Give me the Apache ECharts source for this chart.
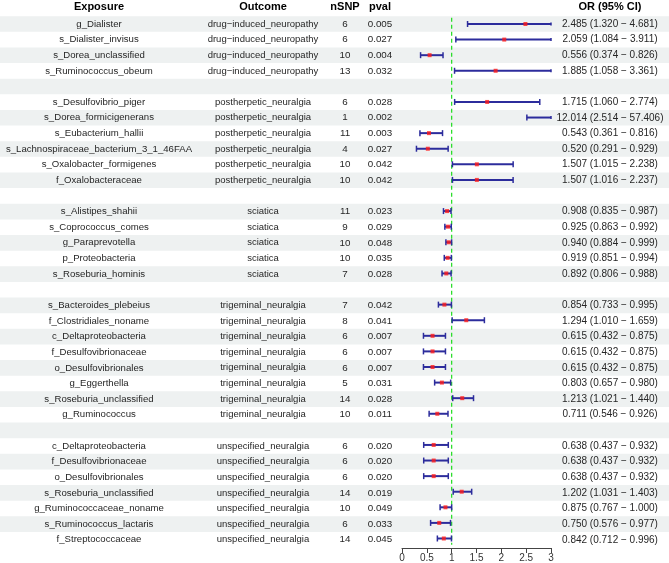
<!DOCTYPE html>
<html>
<head>
<meta charset="utf-8">
<script src="https://cdn.jsdelivr.net/npm/echarts@6/dist/echarts.min.js"></script>
<style>
html,body{margin:0;padding:0;background:#fff;}
#chart{width:669px;height:563px;}
</style>
</head>
<body>
<div id="chart"></div>
<script>
const exposure = ["g_Dialister","s_Dialister_invisus","s_Dorea_unclassified","s_Ruminococcus_obeum",
  "s_Desulfovibrio_piger","s_Dorea_formicigenerans","s_Eubacterium_hallii","s_Lachnospiraceae_bacterium_3_1_46FAA","s_Oxalobacter_formigenes","f_Oxalobacteraceae",
  "s_Alistipes_shahii","s_Coprococcus_comes","g_Paraprevotella","p_Proteobacteria","s_Roseburia_hominis",
  "s_Bacteroides_plebeius","f_Clostridiales_noname","c_Deltaproteobacteria","f_Desulfovibrionaceae","o_Desulfovibrionales","g_Eggerthella","s_Roseburia_unclassified","g_Ruminococcus",
  "c_Deltaproteobacteria","f_Desulfovibrionaceae","o_Desulfovibrionales","s_Roseburia_unclassified","g_Ruminococcaceae_noname","s_Ruminococcus_lactaris","f_Streptococcaceae"];
const outcome = ["drug\u2212induced_neuropathy","drug\u2212induced_neuropathy","drug\u2212induced_neuropathy","drug\u2212induced_neuropathy",
  "postherpetic_neuralgia","postherpetic_neuralgia","postherpetic_neuralgia","postherpetic_neuralgia","postherpetic_neuralgia","postherpetic_neuralgia",
  "sciatica","sciatica","sciatica","sciatica","sciatica",
  "trigeminal_neuralgia","trigeminal_neuralgia","trigeminal_neuralgia","trigeminal_neuralgia","trigeminal_neuralgia","trigeminal_neuralgia","trigeminal_neuralgia","trigeminal_neuralgia",
  "unspecified_neuralgia","unspecified_neuralgia","unspecified_neuralgia","unspecified_neuralgia","unspecified_neuralgia","unspecified_neuralgia","unspecified_neuralgia"];
const nsnp = [6,6,10,13, 6,1,11,4,10,10, 11,9,10,10,7, 7,8,6,6,6,5,14,10, 6,6,6,14,10,6,14];
const pval = ["0.005","0.027","0.004","0.032", "0.028","0.002","0.003","0.027","0.042","0.042",
  "0.023","0.029","0.048","0.035","0.028", "0.042","0.041","0.007","0.007","0.007","0.031","0.028","0.011",
  "0.020","0.020","0.020","0.019","0.049","0.033","0.045"];
const orv = [2.485,2.059,0.556,1.885, 1.715,12.014,0.543,0.520,1.507,1.507,
  0.908,0.925,0.940,0.919,0.892, 0.854,1.294,0.615,0.615,0.615,0.803,1.213,0.711,
  0.638,0.638,0.638,1.202,0.875,0.750,0.842];
const lo = [1.320,1.084,0.374,1.058, 1.060,2.514,0.361,0.291,1.015,1.016,
  0.835,0.863,0.884,0.851,0.806, 0.733,1.010,0.432,0.432,0.432,0.657,1.021,0.546,
  0.437,0.437,0.437,1.031,0.767,0.576,0.712];
const hi = [4.681,3.911,0.826,3.361, 2.774,57.406,0.816,0.929,2.238,2.237,
  0.987,0.992,0.999,0.994,0.988, 0.995,1.659,0.875,0.875,0.875,0.980,1.440,0.926,
  0.932,0.932,0.932,1.403,1.000,0.977,0.996];
const headers = ["Exposure","Outcome","nSNP","pval","OR (95% CI)"];
const xTicks = [0,0.5,1,1.5,2,2.5,3];

// build rows with blank separators between outcome groups
const rowOf = [];
let r = 0;
for (let i = 0; i < exposure.length; i++) {
  if (i > 0 && outcome[i] !== outcome[i-1]) r++;
  rowOf.push(r);
  r++;
}
const nRows = r;

function fmt(v){ return v.toFixed(3); }
const orText = orv.map((v,i)=> fmt(v) + " (" + fmt(lo[i]) + " \u2212 " + fmt(hi[i]) + ")");

const colX = [99, 263, 345, 380, 610];
const colFont = [9.6, 9.5, 9.8, 9.8, 10];
const FONT = "Liberation Sans, Arial, sans-serif";
const TOP = 16.2, BOTTOM_Y = 549.3;
const yMax = nRows - 0.5 + 0.11;

const stripeData = [];
for (let k = 0; k < nRows; k += 2) stripeData.push([k]);

const textData = exposure.map((e,i)=>[rowOf[i], i]);

const chart = echarts.init(document.getElementById('chart'), null, {renderer:'canvas'});
chart.setOption({
  animation: false,
  backgroundColor: '#ffffff',
  grid: [
    {left: 0, right: 0, top: TOP, bottom: 563 - BOTTOM_Y},
    {left: 402, right: 118, top: TOP, bottom: 563 - BOTTOM_Y}
  ],
  xAxis: [
    {gridIndex: 0, type: 'value', min: 0, max: 669, show: false},
    {gridIndex: 1, type: 'value', min: 0, max: 3, interval: 0.5, position: 'bottom',
     axisLine: {show: true, onZero: false, lineStyle: {color: '#444', width: 1}},
     axisTick: {show: true, length: 5, lineStyle: {color: '#444'}},
     axisLabel: {color: '#333', fontSize: 10, fontFamily: FONT, margin: 5,
       formatter: v => String(v)},
     splitLine: {show: false}}
  ],
  yAxis: [
    {gridIndex: 0, type: 'value', min: -0.5, max: yMax, inverse: true, show: false},
    {gridIndex: 1, type: 'value', min: -0.5, max: yMax, inverse: true, show: false}
  ],
  series: [
    {
      type: 'custom', xAxisIndex: 0, yAxisIndex: 0, z: 1, silent: true,
      data: stripeData,
      renderItem: (params, api) => {
        const k = api.value(0);
        const p0 = api.coord([0, k - 0.5]);
        const p1 = api.coord([669, k + 0.5]);
        return {type: 'rect', shape: {x: p0[0], y: p0[1], width: p1[0]-p0[0], height: p1[1]-p0[1]},
          style: {fill: '#eef1f1'}};
      }
    },
    {
      type: 'custom', xAxisIndex: 0, yAxisIndex: 0, z: 3, silent: true,
      data: [[0]],
      renderItem: (params, api) => {
        const children = headers.map((h, j) => {
          const p = api.coord([colX[j], -1.12]);
          return {type: 'text', x: p[0], y: p[1],
            style: {text: h, fill: '#000', font: 'bold 11px ' + FONT, align: 'center', verticalAlign: 'middle'}};
        });
        return {type: 'group', children};
      }
    },
    {
      type: 'custom', xAxisIndex: 0, yAxisIndex: 0, z: 3, silent: true,
      data: textData,
      renderItem: (params, api) => {
        const row = api.value(0), i = api.value(1);
        const vals = [exposure[i], outcome[i], String(nsnp[i]), pval[i], orText[i]];
        const children = vals.map((t, j) => {
          const p = api.coord([colX[j], row]);
          return {type: 'text', x: p[0], y: p[1],
            style: {text: t, fill: '#262626', font: colFont[j] + 'px ' + FONT, align: 'center', verticalAlign: 'middle'}};
        });
        return {type: 'group', children};
      }
    },
    {
      type: 'custom', xAxisIndex: 1, yAxisIndex: 1, z: 4, silent: true,
      data: [[1]],
      renderItem: (params, api) => {
        const a = api.coord([api.value(0), -0.4]);
        const b = api.coord([api.value(0), nRows - 0.6]);
        return {type: 'line', shape: {x1: a[0], y1: a[1], x2: b[0], y2: b[1]},
          style: {stroke: '#1edc1e', lineWidth: 1.2, lineDash: [4, 3]}};
      }
    },
    {
      type: 'custom', xAxisIndex: 1, yAxisIndex: 1, z: 5, silent: true,
      data: lo.map((v,i)=>[v, hi[i], rowOf[i]]),
      renderItem: (params, api) => {
        const l = api.value(0), h = api.value(1), row = api.value(2);
        const lc = Math.max(0, l), hc = Math.min(3, h);
        const a = api.coord([lc, row]);
        const b = api.coord([hc, row]);
        const capL = l >= 0 ? 3 : 1.5;
        const capH = h <= 3 ? 3 : 1.5;
        const col = '#2c2c9c';
        return {type: 'group', children: [
          {type: 'line', shape: {x1: a[0], y1: a[1], x2: b[0], y2: b[1]}, style: {stroke: col, lineWidth: 2}},
          {type: 'line', shape: {x1: a[0], y1: a[1]-capL, x2: a[0], y2: a[1]+capL}, style: {stroke: col, lineWidth: 1.5}},
          {type: 'line', shape: {x1: b[0], y1: b[1]-capH, x2: b[0], y2: b[1]+capH}, style: {stroke: col, lineWidth: 1.5}}
        ]};
      }
    },
    {
      type: 'scatter', xAxisIndex: 1, yAxisIndex: 1, z: 6, silent: true, clip: true,
      symbol: 'rect', symbolSize: 4,
      itemStyle: {color: '#ff1a1a'},
      data: orv.map((v,i)=>[v, rowOf[i]])
    }
  ]
});
</script>
</body>
</html>
